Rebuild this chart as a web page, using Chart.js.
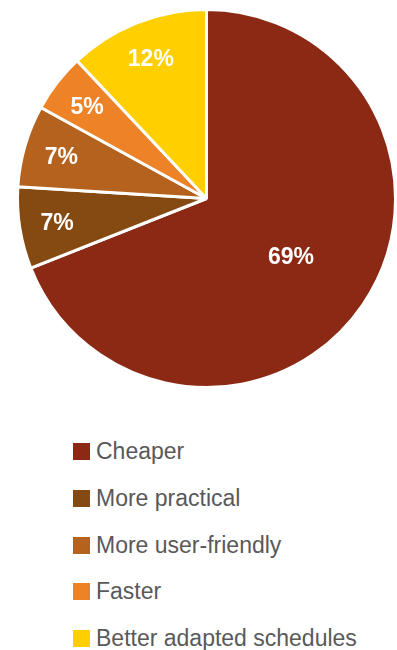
<!DOCTYPE html>
<html lang="en">
<head>
    <meta charset="utf-8">
    <title>Pie</title>
    <script src="https://cdn.jsdelivr.net/npm/chart.js"></script>
    <style>
        body { margin: 0; background: #fff; font-family: "Liberation Sans", Arial, sans-serif; }
        .chart-container { position: relative; width: 397px; height: 400px; }
        #legend { list-style: none; margin: 0; padding: 0; position: absolute; left: 73px; top: 440px; }
        #legend li { height: 46.75px; display: flex; align-items: flex-start; color: #595959; font-size: 23px; white-space: nowrap; }
        #legend span.box { width: 17px; height: 17px; margin: 3px 6px 0 0; display: inline-block; flex: none; }
        #legend span.txt { line-height: 23px; }
    </style>
</head>
<body>
    <div class="chart-container">
        <canvas id="myChart"></canvas>
    </div>
    <ul id="legend"></ul>
    <script>
        // data
        const labels = ['Cheaper', 'More practical', 'More user-friendly', 'Faster', 'Better adapted schedules'];
        const values = [69, 7, 7, 5, 12];
        const colors = ['#8B2915', '#844A12', '#B4621E', '#EE8226', '#FFCF00'];

        // skriver procent i varje sektor
        const pctLabels = {
            id: 'pctLabels',
            afterDatasetsDraw(chart) {
                const ctx = chart.ctx;
                const meta = chart.getDatasetMeta(0);
                ctx.save();
                ctx.fillStyle = '#fff';
                ctx.font = 'bold 23px "Liberation Sans", Arial, sans-serif';
                ctx.textAlign = 'center';
                ctx.textBaseline = 'alphabetic';
                meta.data.forEach((arc, i) => {
                    const mid = (arc.startAngle + arc.endAngle) / 2;
                    const f = values[i] > 50 ? 0.54 : 0.8;
                    const r = arc.outerRadius * f;
                    // baslinje ~ halva sifferhöjden under mitten
                    ctx.fillText(values[i] + '%', arc.x + Math.cos(mid) * r, arc.y + Math.sin(mid) * r + 8);
                });
                ctx.restore();
            }
        };

        new Chart(document.getElementById('myChart'), {
            type: 'pie',
            data: {
                labels: labels,
                datasets: [{
                    data: values,
                    backgroundColor: colors,
                    borderColor: '#fff',
                    borderWidth: 3
                }]
            },
            options: {
                responsive: true,
                maintainAspectRatio: false,
                animation: false,
                layout: { padding: { left: 16, right: 0, top: 8, bottom: 11 } },
                plugins: {
                    legend: { display: false },
                    tooltip: { enabled: false }
                }
            },
            plugins: [pctLabels]
        });

        // legend under diagrammet
        const legend = document.getElementById('legend');
        labels.forEach((l, i) => {
            const li = document.createElement('li');
            li.innerHTML = '<span class="box" style="background:' + colors[i] + '"></span><span class="txt">' + l + '</span>';
            legend.appendChild(li);
        });
    </script>
</body>
</html>
